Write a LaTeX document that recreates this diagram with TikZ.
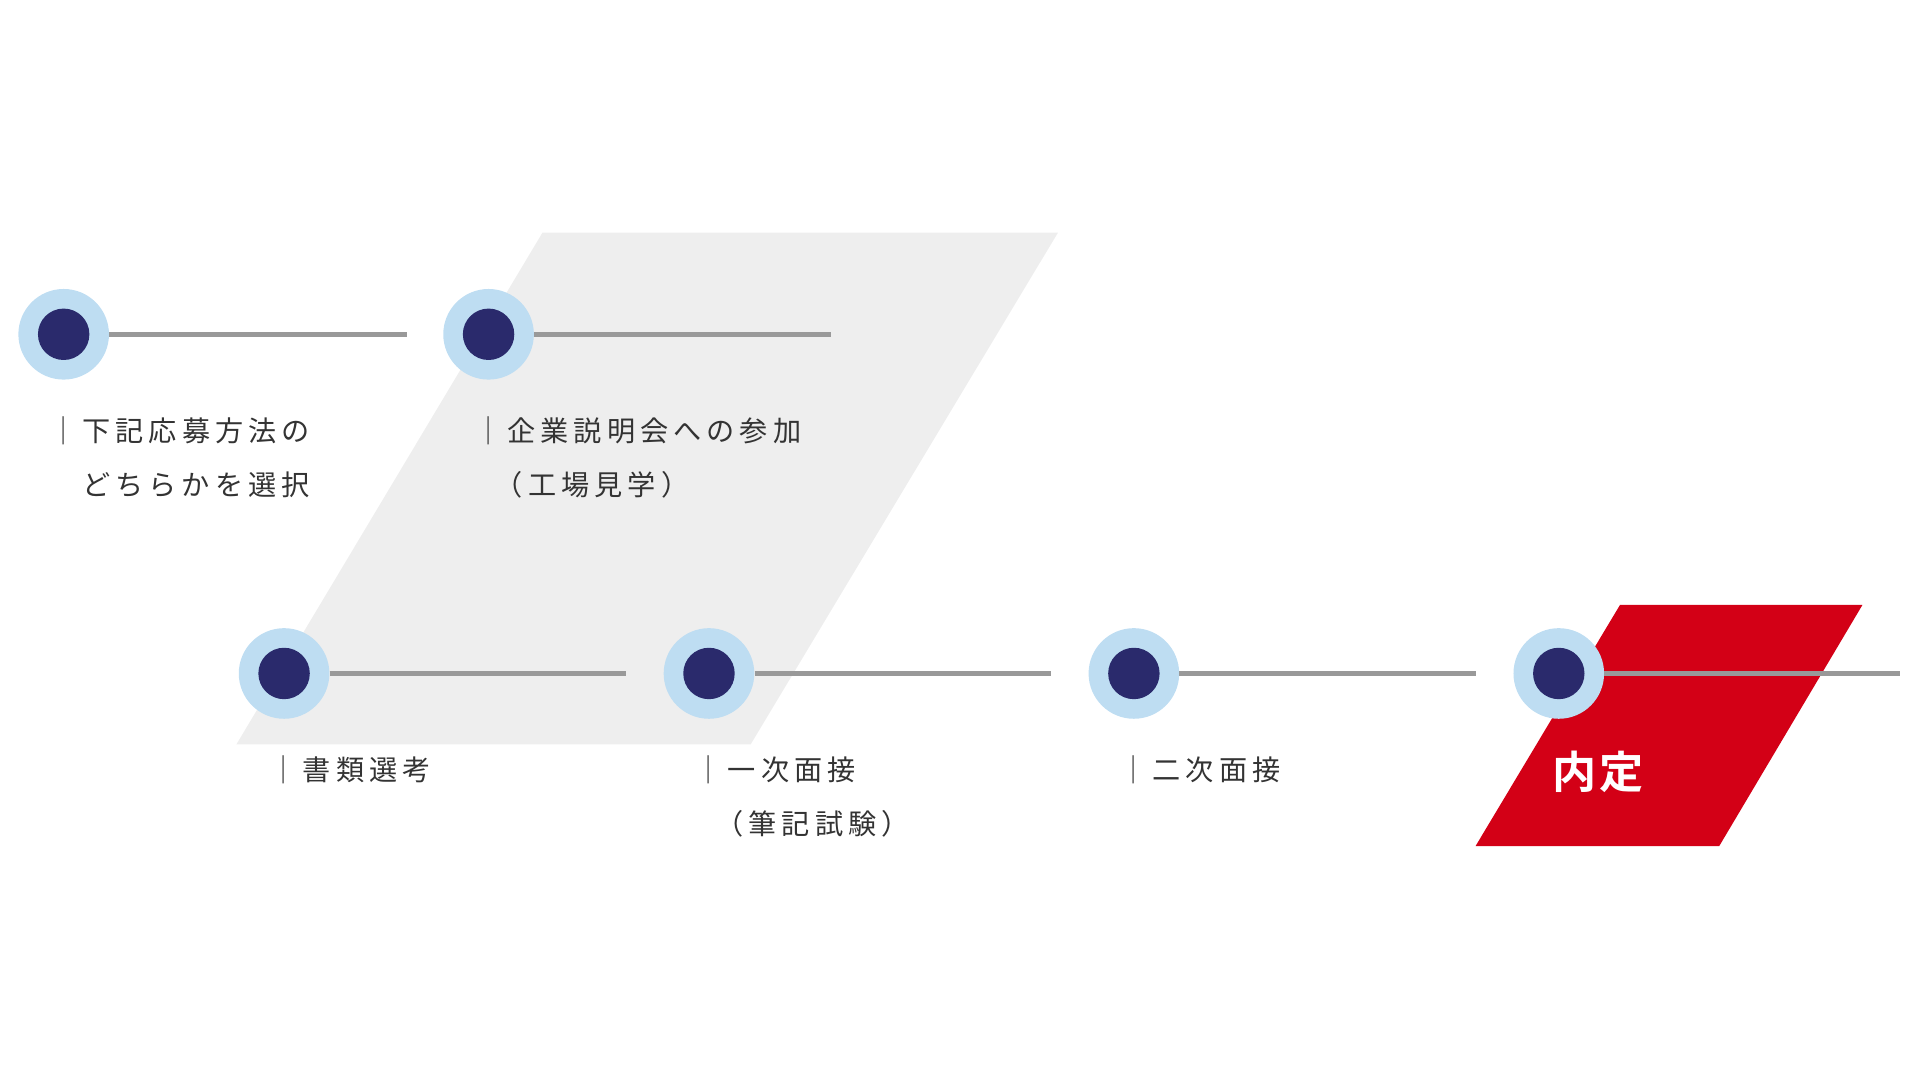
\documentclass[tikz,border=0pt]{standalone}
\usepackage{fontspec}
\newfontfamily\cjk[LetterSpace=18]{Noto Sans CJK JP}
\newfontfamily\cjkb[LetterSpace=5]{Noto Sans CJK JP Bold}
\definecolor{lb}{HTML}{BEDDF2}
\definecolor{nv}{HTML}{2A2A6C}
\definecolor{ln}{HTML}{999999}
\definecolor{bg}{HTML}{EEEEEE}
\definecolor{rd}{HTML}{D30016}
\definecolor{tx}{HTML}{333333}
\begin{document}
\begin{tikzpicture}[x=1pt,y=-1pt,
  dot/.style={circle,fill=lb,minimum size=74pt,inner sep=0pt,
    path picture={\fill[nv] (path picture bounding box.center) circle (21pt);}},
  bar/.style={draw=ln,line width=4pt},
  lbl/.style={anchor=west,inner sep=0pt,text=tx,font=\cjk\fontsize{23}{23}\selectfont}]
\useasboundingbox (0,0) rectangle (1568,882);
\fill[bg] (443,190) -- (864,190) -- (613,608) -- (193,608) -- cycle;
\fill[rd] (1323,494) -- (1521,494) -- (1404,691) -- (1205,691) -- cycle;
\node[dot] (c1) at (52,273) {};
\node[dot] (c2) at (399,273) {};
\node[dot] (c3) at (232,550) {};
\node[dot] (c4) at (579,550) {};
\node[dot] (c5) at (926,550) {};
\node[dot] (c6) at (1273,550) {};
\coordinate (e1) at (332,273);
\coordinate (e2) at (679,273);
\coordinate (e3) at (511,550);
\coordinate (e4) at (858,550);
\coordinate (e5) at (1205,550);
\coordinate (e6) at (1552,550);
\foreach \i in {1,...,6}{\draw[bar] (c\i.east) -- (e\i);}
\node[lbl] (t1) at (40,352) {｜下記応募方法の};
\node[lbl] (t1b) at (67,396) {どちらかを選択};
\node[lbl] (t2) at (387,352) {｜企業説明会への参加};
\node[lbl] (t2b) at (404,396) {（工場見学）};
\node[lbl] (t3) at (220,629) {｜書類選考};
\node[lbl] (t4) at (567,629) {｜一次面接};
\node[lbl] (t4b) at (584,673) {（筆記試験）};
\node[lbl] (t5) at (914,629) {｜二次面接};
\node[anchor=west,inner sep=0pt,text=white,font=\cjkb\fontsize{36}{36}\selectfont] (t6) at (1268,630) {内定};
\end{tikzpicture}
\end{document}
